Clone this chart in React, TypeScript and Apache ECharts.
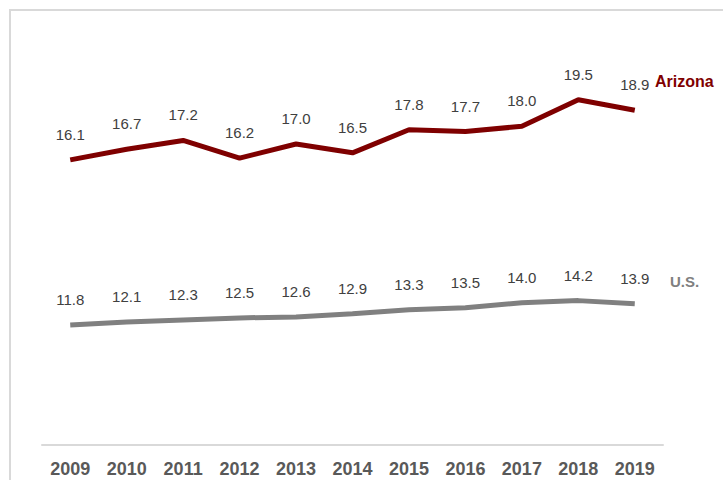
import React, { useEffect, useRef } from "react";
import * as echarts from "echarts";

const years = ["2009", "2010", "2011", "2012", "2013", "2014", "2015", "2016", "2017", "2018", "2019"];
const arizona = [16.1, 16.7, 17.2, 16.2, 17.0, 16.5, 17.8, 17.7, 18.0, 19.5, 18.9];
const us = [11.8, 12.1, 12.3, 12.5, 12.6, 12.9, 13.3, 13.5, 14.0, 14.2, 13.9];

export default function App() {
  const ref = useRef<HTMLDivElement>(null);
  useEffect(() => {
    const chart = echarts.init(ref.current!, null, { renderer: "svg" });
    const font = "Arial, 'Liberation Sans', sans-serif";
    const lbl = {
      show: true,
      position: "top",
      distance: 18,
      color: "#404040",
      fontSize: 15,
      fontFamily: font,
      formatter: (p: any) => Number(p.value).toFixed(1),
    };
    chart.setOption({
      animation: false,
      backgroundColor: "#ffffff",
      grid: { left: 42, right: 60, top: 20, bottom: 35, containLabel: false },
      xAxis: {
        type: "category",
        data: years,
        boundaryGap: true,
        axisLine: { show: true, lineStyle: { color: "#d9d9d9", width: 2 } },
        axisTick: { show: false },
        axisLabel: { color: "#595959", fontSize: 18, fontWeight: "bold", fontFamily: font, margin: 15 },
      },
      yAxis: [
        { type: "value", min: 0, max: 24, show: false, splitLine: { show: false } },
        { type: "value", min: 0, max: 41.8, show: false, splitLine: { show: false } },
      ],
      series: [
        {
          name: "Arizona",
          type: "line",
          yAxisIndex: 0,
          data: arizona,
          symbol: "circle",
          symbolSize: 0,
          showSymbol: true,
          lineStyle: { color: "#7f0000", width: 5 },
          itemStyle: { color: "#7f0000" },
          label: lbl,
        },
        {
          name: "U.S.",
          type: "line",
          yAxisIndex: 1,
          data: us,
          symbol: "circle",
          symbolSize: 0,
          showSymbol: true,
          lineStyle: { color: "#808080", width: 5 },
          itemStyle: { color: "#808080" },
          label: lbl,
        },
      ],
      graphic: [
        {
          type: "rect",
          shape: { x: 10, y: 10, width: 900, height: 700 },
          style: { fill: "none", stroke: "#d9d9d9", lineWidth: 2 },
          silent: true,
        },
        {
          type: "text",
          x: 655,
          y: 81,
          style: { text: "Arizona", fill: "#7f0000", font: `bold 16px ${font}`, verticalAlign: "middle" },
        },
        {
          type: "text",
          x: 670,
          y: 281,
          style: { text: "U.S.", fill: "#808080", font: `bold 15px ${font}`, verticalAlign: "middle" },
        },
      ],
    });
    return () => chart.dispose();
  }, []);
  return <div ref={ref} style={{ position: "absolute", left: 0, top: 0, width: 723, height: 480 }} />;
}
